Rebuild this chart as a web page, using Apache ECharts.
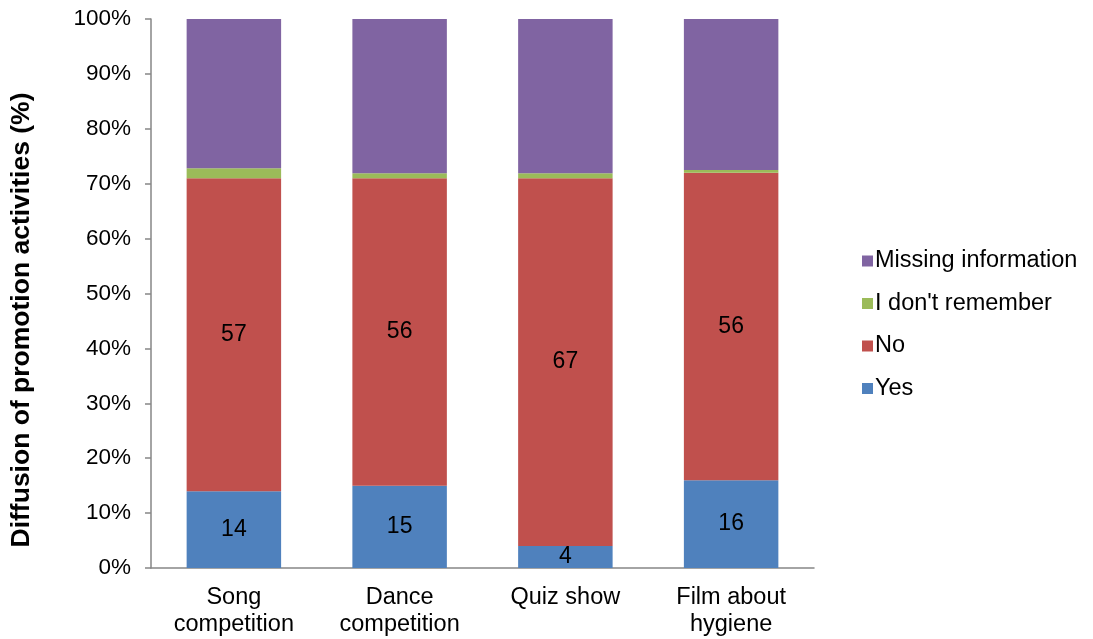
<!DOCTYPE html>
<html>
<head>
<meta charset="utf-8">
<title>Diffusion of promotion activities</title>
<script src="https://cdn.jsdelivr.net/npm/echarts@6/dist/echarts.min.js"></script>
<style>
  html, body { margin: 0; padding: 0; background: #fff; }
  #chart { width: 1093px; height: 639px; }
</style>
</head>
<body>
<div id="chart"></div>
<script>
// Activities along the x axis
const categories = ['Song\ncompetition', 'Dance\ncompetition', 'Quiz show', 'Film about\nhygiene'];

// Share of respondents per answer (%), stacked to 100
const yesValues = [14, 15, 4, 16];
const noValues = [57, 56, 67, 56];
const dontRememberValues = [1.8, 0.9, 0.9, 0.5];
const missingValues = [27.2, 28.1, 28.1, 27.5];

// Y axis tick labels
const yTickLabels = ['0%', '10%', '20%', '30%', '40%', '50%', '60%', '70%', '80%', '90%', '100%'];

const FONT = '"Liberation Sans", Arial, sans-serif';
const AXIS_GREY = '#868686';

const chart = echarts.init(document.getElementById('chart'), null, { renderer: 'canvas' });

function seg(name, data, color, showLabel) {
  return {
    name: name,
    type: 'bar',
    stack: 'total',
    data: data,
    barWidth: '57%',
    itemStyle: { color: color },
    label: {
      show: showLabel,
      position: 'inside',
      color: '#000',
      fontFamily: FONT,
      fontSize: 23
    },
    emphasis: { disabled: true }
  };
}

chart.setOption({
  animation: false,
  backgroundColor: '#ffffff',
  textStyle: { fontFamily: FONT },
  grid: { left: 151, right: 279, top: 19, bottom: 71, containLabel: false },
  legend: {
    orient: 'vertical',
    left: 862,
    top: 249,
    padding: 0,
    itemWidth: 11,
    itemHeight: 11,
    itemGap: 18.5,
    icon: 'rect',
    data: ['Missing information', "I don't remember", 'No', 'Yes'],
    textStyle: { fontFamily: FONT, fontSize: 23.5, color: '#000', padding: [0, 0, 0, -3] }
  },
  xAxis: {
    type: 'category',
    data: categories,
    axisLine: { lineStyle: { color: AXIS_GREY, width: 1.5 } },
    axisTick: { show: false },
    axisLabel: {
      color: '#000',
      fontFamily: FONT,
      fontSize: 23.5,
      lineHeight: 27,
      margin: 16,
      interval: 0
    }
  },
  yAxis: {
    type: 'value',
    min: 0,
    max: 100,
    interval: 10,
    axisLine: { show: true, lineStyle: { color: AXIS_GREY, width: 1.5 } },
    axisTick: { show: true, length: 6, lineStyle: { color: AXIS_GREY, width: 1.5 } },
    splitLine: { show: false },
    axisLabel: {
      color: '#000',
      fontFamily: FONT,
      fontSize: 22.5,
      margin: 20,
      formatter: function (v) { return yTickLabels[Math.round(v / 10)]; }
    }
  },
  graphic: [{
    type: 'text',
    x: 22,
    y: 320,
    rotation: Math.PI / 2,
    style: {
      text: 'Diffusion of promotion activities (%)',
      fontFamily: FONT,
      fontSize: 26.5,
      fontWeight: 'bold',
      fill: '#000',
      align: 'center',
      verticalAlign: 'middle'
    }
  }],
  series: [
    seg('Yes', yesValues, '#4F81BD', true),
    seg('No', noValues, '#C0504D', true),
    seg("I don't remember", dontRememberValues, '#9BBB59', false),
    seg('Missing information', missingValues, '#8064A2', false)
  ]
});
</script>
</body>
</html>
